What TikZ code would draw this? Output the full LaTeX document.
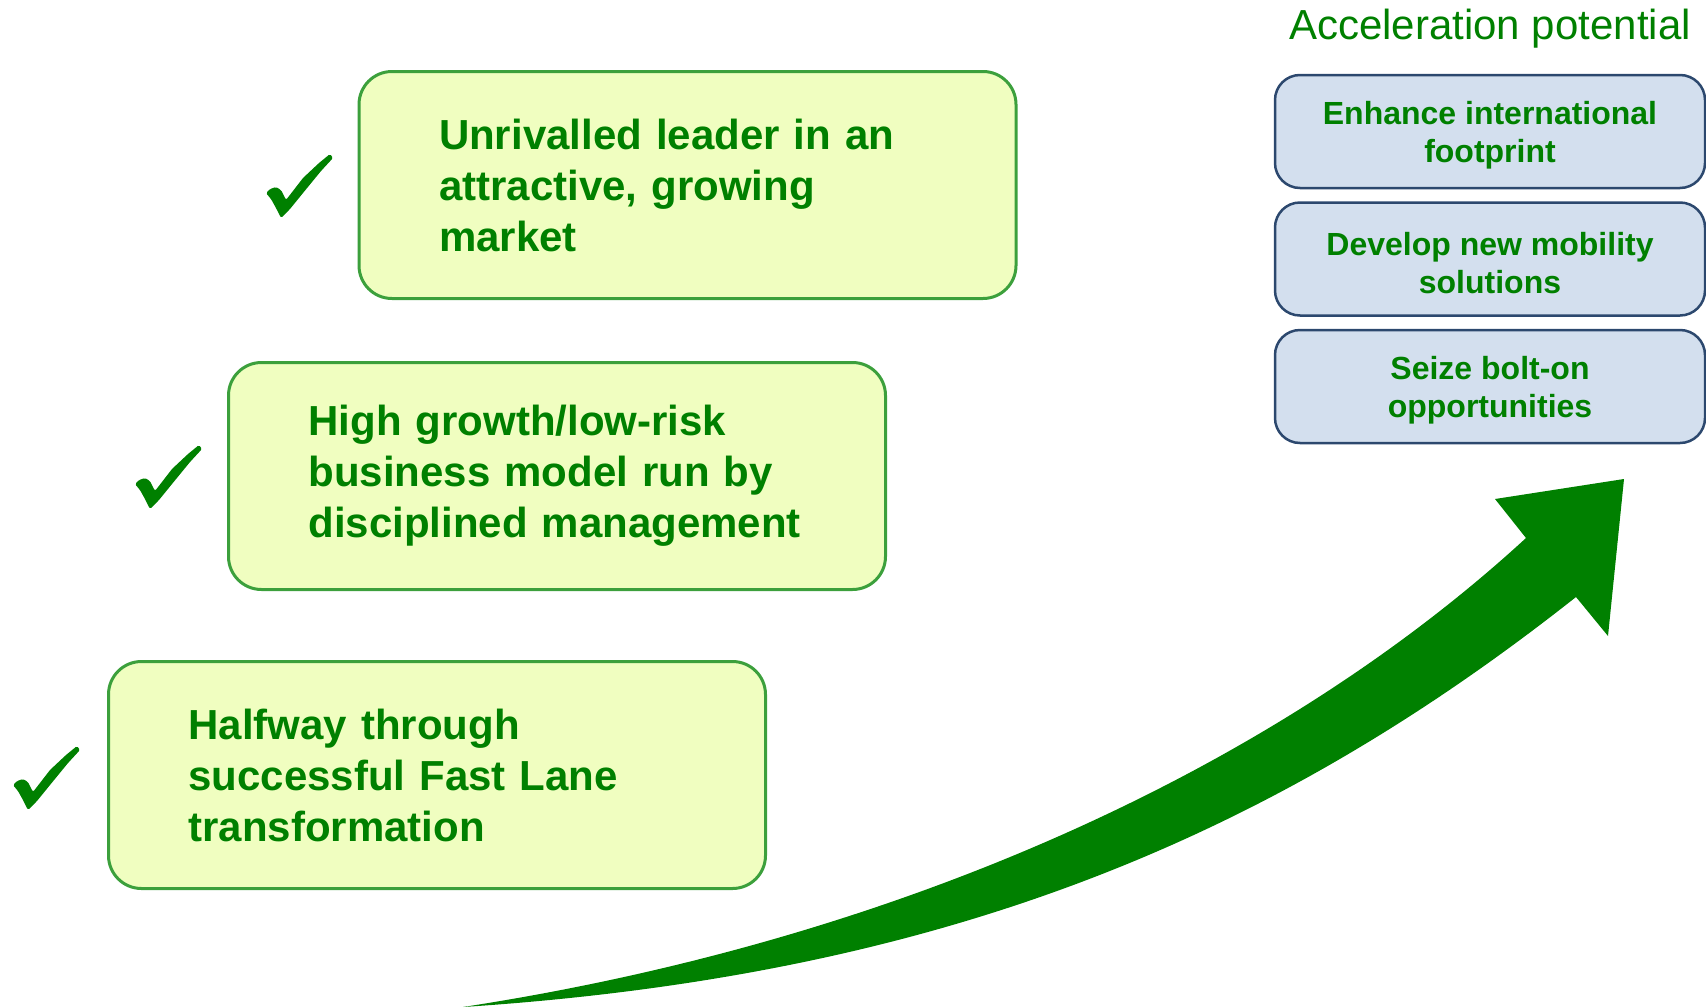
\documentclass[tikz,border=0pt]{standalone}
\usepackage{fontspec}
\setmainfont{Liberation Sans}
\usetikzlibrary{positioning}

\definecolor{txtgreen}{RGB}{0,128,0}
\definecolor{boxfill}{RGB}{240,254,192}
\definecolor{boxline}{RGB}{60,160,60}
\definecolor{bluefill}{RGB}{211,223,238}
\definecolor{blueline}{RGB}{44,72,110}

\newcommand{\upstrut}{\rule{0pt}{31pt}}

\tikzset{
    checkmark/.pic={
        \fill[txtgreen, rounded corners=1.5pt] (0,0) -- (-5,-10) -- (-10,-19) -- (-15,-25)
            -- (-11,-29) -- (-5,-31) -- (0,-28) -- (5,-18) -- (22,-40) -- (38,-55)
            -- (49,-64) -- (52,-60) -- (40,-47) -- (22,-25) -- (9,-9) -- cycle;
    }
}

\begin{document}
\begin{tikzpicture}[x=1pt, y=-1pt,
    greenbox/.style={draw=boxline, line width=3pt, fill=boxfill, rounded corners=33pt,
        minimum width=657pt, minimum height=227pt, text width=497pt, inner xsep=80pt,
        align=left, text=txtgreen, font=\fontsize{42}{51}\selectfont\bfseries},
    bluebox/.style={draw=blueline, line width=2.5pt, fill=bluefill, rounded corners=25pt,
        minimum width=430pt, minimum height=113pt, align=center, text=txtgreen,
        font=\fontsize{32}{38}\selectfont\bfseries},
    node distance=12pt]
    \useasboundingbox (0,0) rectangle (1706,1007);

    % three steps already done
    \node[greenbox] (leader) at (687.5,185) {Unrivalled leader in an\\attractive, growing\\market};
    \node[greenbox] (model) at (557,476) {High growth/low-risk\\business model run by\\disciplined management};
    \node[greenbox] (fastlane) at (437,775) {Halfway through\\successful Fast Lane\\transformation};

    \pic at (281,218) {checkmark};
    \pic at (150,509) {checkmark};
    \pic at (28,810) {checkmark};

    % what comes next
    \node[text=txtgreen, font=\fontsize{42}{48}\selectfont, anchor=base] (accel) at (1490,39) {Acceleration potential};
    \node[bluebox] (intl) at (1490,131.5) {\upstrut Enhance international\\footprint};
    \node[bluebox, below=of intl] (mobility) {\upstrut Develop new mobility\\solutions};
    \node[bluebox, below=of mobility] (bolton) {\upstrut Seize bolt-on\\opportunities};

    % big growth arrow
    \fill[txtgreen] (463,1007) .. controls (900,940) and (1276,768) .. (1526,538)
        -- (1495,499) -- (1624,479) -- (1608,636) -- (1576,597)
        .. controls (1276,834) and (950,975) .. (463,1007) -- cycle;
\end{tikzpicture}
\end{document}
